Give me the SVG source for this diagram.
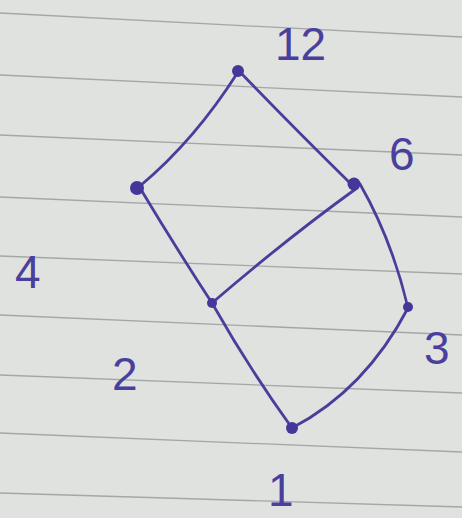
<svg xmlns="http://www.w3.org/2000/svg" width="462" height="518" viewBox="0 0 462 518">
<style>
.ink{stroke:#4a3d9c;stroke-width:2.8;fill:none;stroke-linecap:round}
.dot{fill:#45379a}
.lbl{font-family:"Liberation Sans",Arial,sans-serif;font-size:46px;fill:#4b3f9e}
.rule{stroke:#8c8f8e;stroke-width:1.3;opacity:0.7}
</style>
<rect width="462" height="518" fill="#dfe2df"/>
<g id="paper">
<line class="rule" x1="0" y1="13" x2="462" y2="37"/>
<line class="rule" x1="0" y1="75" x2="462" y2="97"/>
<line class="rule" x1="0" y1="135" x2="462" y2="155"/>
<line class="rule" x1="0" y1="197" x2="462" y2="217"/>
<line class="rule" x1="0" y1="256" x2="462" y2="274"/>
<line class="rule" x1="0" y1="315" x2="462" y2="335"/>
<line class="rule" x1="0" y1="375" x2="462" y2="393"/>
<line class="rule" x1="0" y1="433" x2="462" y2="452"/>
<line class="rule" x1="0" y1="493" x2="462" y2="507"/>
</g>
<g id="connectors">
<path class="ink" d="M238 72 Q195 140 140 186"/>
<path class="ink" d="M240 72 Q292 126 350 183"/>
<path class="ink" d="M140 188 Q176 248 212 303"/>
<path class="ink" d="M357 188 Q285 240 212 303"/>
<path class="ink" d="M360 184 Q392 240 408 308"/>
<path class="ink" d="M212 303 Q250 370 292 428"/>
<path class="ink" d="M408 308 Q365 390 292 428"/>
</g>
<g id="n12"><circle class="dot" cx="238" cy="71" r="6"/><text class="lbl" x="275" y="60" font-size="50">12</text></g>
<g id="n6"><circle class="dot" cx="354" cy="184" r="6.5"/><text class="lbl" x="389" y="170">6</text></g>
<g id="n4"><circle class="dot" cx="137" cy="188" r="7"/><text class="lbl" x="15" y="288" font-size="58">4</text></g>
<g id="n2"><circle class="dot" cx="212" cy="303" r="5"/><text class="lbl" x="112" y="390">2</text></g>
<g id="n3"><circle class="dot" cx="408" cy="307" r="5"/><text class="lbl" x="424" y="364">3</text></g>
<g id="n1"><circle class="dot" cx="292" cy="428" r="6"/><text class="lbl" x="268" y="506" font-size="42">1</text></g>
</svg>
